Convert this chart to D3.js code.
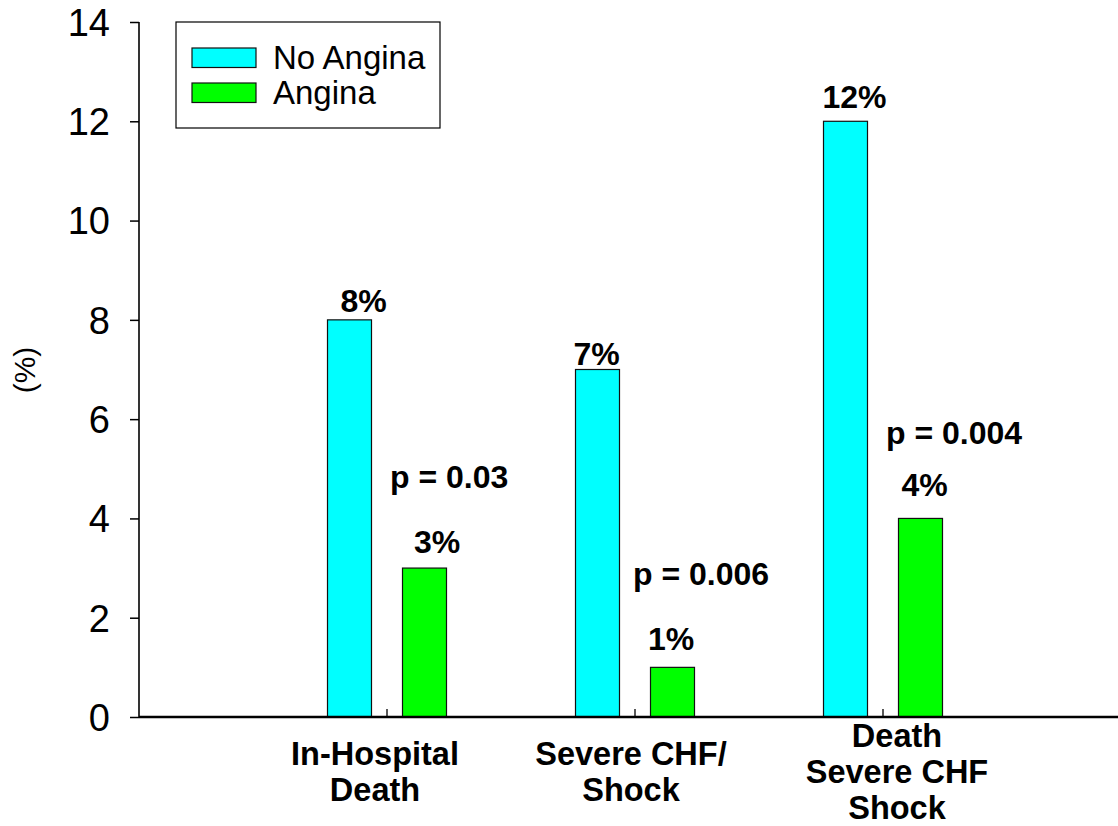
<!DOCTYPE html>
<html>
<head>
<meta charset="utf-8">
<script src="https://cdn.jsdelivr.net/npm/d3@7"></script>
<style>
  html, body { margin: 0; padding: 0; background: #fff; }
  svg { display: block; }
  text { font-family: "Liberation Sans", Arial, Helvetica, sans-serif; fill: #000; }
</style>
</head>
<body>
<svg id="chart" width="1118" height="826"></svg>
<script>
// ---- data ----
const categories = ["In-Hospital Death", "Severe CHF/ Shock", "Death Severe CHF Shock"];
const categoryLines = [["In-Hospital", "Death"], ["Severe CHF/", "Shock"], ["Death", "Severe CHF", "Shock"]];
const seriesNames = ["No Angina", "Angina"];
const noAngina = [8, 7, 12];
const angina = [3, 1, 4];
const valueLabels = [["8%", "7%", "12%"], ["3%", "1%", "4%"]];
const pValues = ["p = 0.03", "p = 0.006", "p = 0.004"];
const yTicks = [0, 2, 4, 6, 8, 10, 12, 14];

// ---- layout / style (not data) ----
const colors = ["#00FFFF", "#00FF00"];
const valueLabelDx = [[14, -1, 9], [12.5, -1.5, 4]];
const valueLabelGap = [[8, 5, 13], [15, 17, 22]];
const pDx = [3, -2, 3];
const pGap = [80, 82, 74];
const catDx = [-12, -4, 14];

const svg = d3.select("#chart");
const axisX0 = 139, axisY0 = 717, axisTop = 22;

const y = d3.scaleLinear().domain([0, 14]).range([axisY0, axisTop]);
const x0 = d3.scaleBand().domain(categories).range([263, 1007]).paddingInner(0).paddingOuter(0);
const x1 = d3.scaleBand().domain(seriesNames).range([-59.5, 59.5]).paddingInner(31 / 75).paddingOuter(0);
const cx = c => x0(c) + x0.bandwidth() / 2;

const seriesData = [noAngina, angina];

// bars
seriesNames.forEach((s, si) => {
  svg.append("g").selectAll("rect")
    .data(categories.map((c, i) => ({ c, v: seriesData[si][i] })))
    .join("rect")
    .attr("x", d => cx(d.c) + x1(s))
    .attr("width", x1.bandwidth())
    .attr("y", d => y(d.v))
    .attr("height", d => y(0) - y(d.v))
    .attr("fill", colors[si])
    .attr("stroke", "#111")
    .attr("stroke-width", 1.2);
});

// y axis
const yAxis = d3.axisLeft(y).tickValues(yTicks).tickSize(9).tickPadding(20).tickFormat(d3.format("d"));
const gy = svg.append("g").attr("transform", `translate(${axisX0},0)`).call(yAxis);
gy.select(".domain").remove();
gy.selectAll(".tick line").attr("stroke", "#000").attr("stroke-width", 1.5);
gy.selectAll(".tick text").style("font-size", "38px").attr("dy", "0.35em");
svg.append("line").attr("x1", axisX0).attr("x2", axisX0).attr("y1", axisTop).attr("y2", axisY0)
  .attr("stroke", "#000").attr("stroke-width", 1.6);

// x axis line
svg.append("line").attr("x1", axisX0).attr("x2", 1118).attr("y1", axisY0).attr("y2", axisY0)
  .attr("stroke", "#000").attr("stroke-width", 2.6);
// inward category ticks
const xAxis = d3.axisBottom(x0).tickSize(-8).tickFormat("");
const gx = svg.append("g").attr("transform", `translate(0,${axisY0})`).call(xAxis);
gx.select(".domain").remove();
gx.selectAll(".tick line").attr("stroke", "#000").attr("stroke-width", 1.3);

// category labels
const lineH = 36, midY = 783;
categories.forEach((c, i) => {
  const lines = categoryLines[i];
  const first = midY - (lines.length - 1) * lineH / 2;
  const t = svg.append("text")
    .attr("text-anchor", "middle")
    .style("font-size", "32.5px").style("font-weight", "bold");
  lines.forEach((ln, k) => {
    t.append("tspan").attr("x", cx(c) + catDx[i]).attr("y", first + k * lineH).text(ln);
  });
});

// value labels
seriesNames.forEach((s, si) => {
  categories.forEach((c, i) => {
    svg.append("text")
      .attr("x", cx(c) + x1(s) + x1.bandwidth() / 2 + valueLabelDx[si][i])
      .attr("y", y(seriesData[si][i]) - valueLabelGap[si][i])
      .attr("text-anchor", "middle")
      .style("font-size", "32px").style("font-weight", "bold")
      .text(valueLabels[si][i]);
  });
});

// p-values
categories.forEach((c, i) => {
  svg.append("text")
    .attr("x", cx(c) + pDx[i])
    .attr("y", y(angina[i]) - pGap[i])
    .attr("text-anchor", "start")
    .style("font-size", "32px").style("font-weight", "bold")
    .text(pValues[i]);
});

// y axis title
svg.append("text")
  .attr("transform", "translate(35,370) rotate(-90)")
  .attr("text-anchor", "middle")
  .style("font-size", "30px")
  .text("(%)");

// legend
const lg = svg.append("g");
lg.append("rect").attr("x", 176).attr("y", 22).attr("width", 264).attr("height", 106)
  .attr("fill", "#fff").attr("stroke", "#000").attr("stroke-width", 1.2);
seriesNames.forEach((s, si) => {
  const yy = 48 + si * 35;
  lg.append("rect").attr("x", 192).attr("y", yy).attr("width", 64).attr("height", 19.5)
    .attr("fill", colors[si]).attr("stroke", "#111").attr("stroke-width", 1.2);
  lg.append("text").attr("x", 273).attr("y", yy + 21)
    .style("font-size", "33px").text(s);
});
</script>
</body>
</html>
